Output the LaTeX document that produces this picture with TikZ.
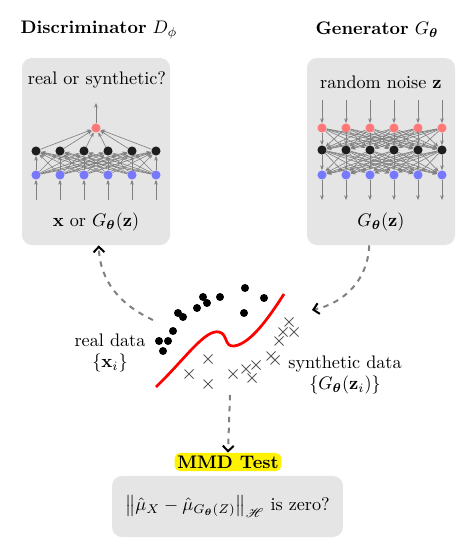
\documentclass[tikz,border=0pt]{standalone}
\usepackage{amsmath,amssymb,bm,mathrsfs}
\usetikzlibrary{arrows.meta}
\definecolor{panelgray}{RGB}{229,229,229}
\definecolor{outred}{RGB}{255,120,120}
\definecolor{inblue}{RGB}{120,120,255}
\definecolor{hidblack}{RGB}{30,30,30}
\begin{document}
\begin{tikzpicture}[x=0.55pt,y=0.55pt,
  panel/.style={fill=panelgray, rounded corners=5.5pt, inner sep=0pt},
  neuron/.style={circle, inner sep=0pt, minimum size=5pt},
  link/.style={-{Stealth[length=2.6pt,width=2pt]}, gray, line width=0.35pt},
  dasharrow/.style={gray, dashed, line width=1.1pt, -{Straight Barb[length=3pt,width=6pt,color=black]}},
  crossmark/.style={black!65, line width=0.5pt}]

\useasboundingbox (0,0) rectangle (475,547);

% titles
\node (dtitle) at (99,517) {\textbf{Discriminator} $D_{\phi}$};
\node (gtitle) at (377,517) {\textbf{Generator} $G_{\bm\theta}$};

% panels
\node[panel, minimum width=81.4pt, minimum height=102.9pt] (dpanel) at (96,395.5) {};
\node[panel, minimum width=81.4pt, minimum height=102.9pt] (gpanel) at (381,395.5) {};
\node (dq) at (97,467) {real or synthetic?};
\node (dlab) at (96,325) {$\mathbf{x}$ or $G_{\bm\theta}(\mathbf{z})$};
\node (gq) at (381,465) {random noise $\mathbf{z}$};
\node (glab) at (381,325) {$G_{\bm\theta}(\mathbf{z})$};

% discriminator net
\node[neuron, fill=outred] (d-out) at (96,419) {};
\coordinate (d-top) at (96,444);
\draw[link] (d-out) -- (d-top);
\foreach \i/\x in {1/36,2/60,3/84,4/108,5/132,6/156}
{
 \node[neuron, fill=inblue] (d-in-\i) at (\x,372) {};
 \node[neuron, fill=hidblack] (d-hid-\i) at (\x,396) {};
 \coordinate (d-src-\i) at (\x,347);
 \draw[link] (d-src-\i) -- (d-in-\i);
}
\foreach \i in {1,...,6}
{
 \foreach \j in {1,...,6}
  \draw[link] (d-in-\i) -- (d-hid-\j);
 \draw[link] (d-hid-\i) -- (d-out);
}

% generator net
\foreach \i/\x in {1/322,2/346,3/370,4/394,5/418,6/442}
{
 \node[neuron, fill=outred] (g-in-\i) at (\x,419) {};
 \node[neuron, fill=hidblack] (g-hid-\i) at (\x,397) {};
 \node[neuron, fill=inblue] (g-out-\i) at (\x,372) {};
 \coordinate (g-src-\i) at (\x,447);
 \coordinate (g-dst-\i) at (\x,347);
 \draw[link] (g-src-\i) -- (g-in-\i);
 \draw[link] (g-out-\i) -- (g-dst-\i);
}
\foreach \i in {1,...,6}
 \foreach \j in {1,...,6}
 {
  \draw[link] (g-in-\i) -- (g-hid-\j);
  \draw[link] (g-hid-\i) -- (g-out-\j);
 }

% data
\foreach \x/\y in {203/250,220/250,245/259,264/249,207/244,197/239,244/234,178/234,183/230,173/216,159/206,168/206,163/196}
 \fill (\x,\y) circle (2.2pt);
\foreach \x/\y in {289/225,283/215,294/215,279/206,208/188,271/191,275/187,256/182,246/178,189/173,233/173,252/169,208/163}
 \draw[crossmark] (\x-4.5,\y-4.5) -- (\x+4.5,\y+4.5) (\x-4.5,\y+4.5) -- (\x+4.5,\y-4.5);
\draw[red, line width=1.5pt] (156,160) .. controls (185,188) and (205,218) .. (219,215)
 .. controls (228,213) and (224,200) .. (234,201)
 .. controls (250,203) and (268,228) .. (284,253);

\node[align=center] (real) at (110,194) {real data\\$\{\mathbf{x}_i\}$};
\node[align=center] (synth) at (345,172) {synthetic data\\$\{G_{\bm\theta}(\mathbf{z}_i)\}$};

\coordinate (real-end) at (153,227);
\coordinate (synth-end) at (312,237);
\coordinate (data-bottom) at (230,152);
\draw[dasharrow] (real-end) to[out=155,in=-88] ([xshift=1.5pt]dpanel.south);
\draw[dasharrow] ([xshift=-6.5pt]gpanel.south) to[out=-92,in=12] (synth-end);

% test
\node[fill=yellow, rounded corners=3pt, inner sep=1.5pt] (mmd) at (228,85) {\textbf{MMD Test}};
\draw[dasharrow] (data-bottom) -- (mmd.north);
\node[panel, minimum width=127pt, minimum height=33.6pt] (test) at (227.5,40.5)
 {$\left\|\hat{\mu}_X-\hat{\mu}_{G_{\bm\theta}(Z)}\right\|_{\mathscr{H}}$ is zero?};

\end{tikzpicture}
\end{document}
